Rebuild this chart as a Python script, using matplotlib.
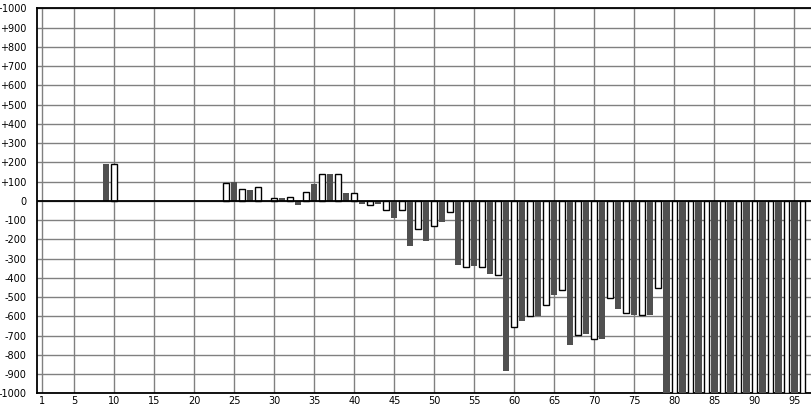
import numpy as np
import matplotlib
matplotlib.use("Agg")
import matplotlib.pyplot as plt

# category index 1..96, one bar each (odd = dark, even = outlined white)
_CATS = list(range(1, 97))
_VALUES = (
    [0] * 8
    + [190, 190]
    + [0] * 13
    + [95, 97, 59, 57, 74, 0, 12, 12, 22, -23, 48, 85, 140, 140, 140, 38, 38]
    + [-16, -21, -16, -47, -90, -47, -236, -148, -210, -130, -112, -58]
    + [-336, -345, -341, -345, -378, -383, -882, -657, -622, -600, -598]
    + [-542, -487, -464, -747, -698, -692, -720, -716, -506, -560, -584]
    + [-591, -594, -591, -454]
    + [-1000] * 18
)
_XTICKS = [1] + list(range(5, 96, 5))
_YTICKS = list(range(-1000, 1001, 100))
_YLABELS = [("+%d" % v if v > 0 else "%d" % v) for v in _YTICKS]

_DARK = "#505050"
_GRID = "#808080"


def main():
    W, H = 812, 405
    fig = plt.figure(figsize=(W / 100, H / 100), dpi=100)
    ax = fig.add_axes([37.5 / W, 1 - 393.3 / H, 1 - 37.5 / W, (393.3 - 8.3) / H])

    x = np.array(_CATS)
    v = np.array(_VALUES, dtype=float)
    nz = v != 0  # empty categories get no bar at all
    odd = (x % 2 == 1) & nz
    even = (x % 2 == 0) & nz
    ax.bar(x[odd], v[odd], width=0.78, color=_DARK, linewidth=0, zorder=3)
    ax.bar(x[even], v[even], width=0.72, facecolor="white", edgecolor="black",
           linewidth=1.0, zorder=3)

    ax.set_xlim(0.4, 97.2)
    ax.set_ylim(-1000, 1000)
    ax.set_xticks(_XTICKS)
    ax.set_xticklabels([str(t) for t in _XTICKS])
    ax.set_yticks(_YTICKS)
    ax.set_yticklabels(_YLABELS)
    ax.tick_params(axis="both", length=0, labelsize=7, colors="black")
    ax.tick_params(axis="y", pad=8)
    ax.tick_params(axis="x", pad=2)

    ax.grid(True, color=_GRID, linewidth=1.0, zorder=0)
    ax.set_axisbelow(True)
    ax.axhline(0, color="black", linewidth=1.3, zorder=4)

    for side in ("left", "bottom", "top"):
        ax.spines[side].set_color("black")
        ax.spines[side].set_linewidth(1.3)
    ax.spines["right"].set_visible(False)

    fig.savefig("out.png", dpi=100)
    plt.close(fig)


if __name__ == "__main__":
    main()
